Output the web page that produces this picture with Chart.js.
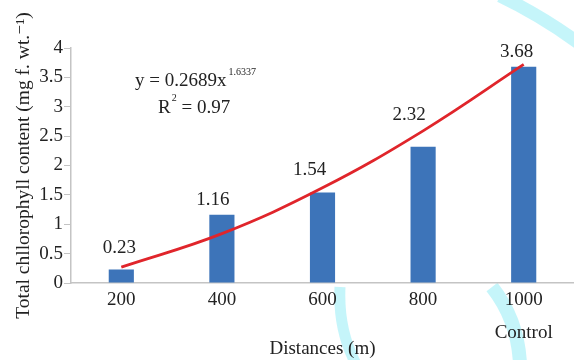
<!DOCTYPE html>
<html lang="en">
<head>
    <meta charset="UTF-8">
    <title>Total chlorophyll content by distance</title>
    <script src="https://cdn.jsdelivr.net/npm/chart.js"></script>
    <style>
        html, body { margin: 0; padding: 0; background: #fff; }
        #chartContainer { width: 574px; height: 360px; }
    </style>
</head>
<body>
    <div id="chartContainer">
        <canvas id="myChart" width="574" height="360"></canvas>
    </div>
    <script>
        const distances = ['200', '400', '600', '800', ['1000', 'Control']];
        const chlorophyll = [0.23, 1.16, 1.54, 2.32, 3.68];
        // trend curve at each category
        const trendValues = [0.27, 0.84, 1.62, 2.59, 3.72];
        const yTicks = [0, 0.5, 1, 1.5, 2, 2.5, 3, 3.5, 4];

        const serif = '"Liberation Serif", "DejaVu Serif", serif';
        const ink = '#222';

        // faint cyan watermark behind the chart
        const watermark = {
            id: 'watermark',
            beforeDraw(chart) {
                const c = chart.ctx;
                c.save();
                c.strokeStyle = 'rgba(150, 236, 246, 0.55)';
                c.lineCap = 'butt';
                c.lineWidth = 13;
                c.beginPath();
                c.moveTo(500, -4);
                c.quadraticCurveTo(540, 15, 580, 44);
                c.stroke();
                c.lineWidth = 11;
                c.beginPath();
                c.moveTo(340, 287);
                c.quadraticCurveTo(338, 330, 356, 364);
                c.stroke();
                c.lineWidth = 14;
                c.beginPath();
                c.moveTo(492, 287);
                c.quadraticCurveTo(518, 320, 520, 364);
                c.stroke();
                c.restore();
            }
        };

        // value labels above the bars and the fitted equation
        const annotations = {
            id: 'annotations',
            afterDatasetsDraw(chart, args, opts) {
                const c = chart.ctx;
                const meta = chart.getDatasetMeta(1);
                c.save();
                c.fillStyle = ink;
                c.textAlign = 'center';
                c.textBaseline = 'middle';
                c.font = '19px ' + serif;
                meta.data.forEach((bar, i) => {
                    c.fillText(chlorophyll[i].toFixed(2), bar.x + opts.dx[i], bar.y - opts.dy[i]);
                });

                c.textAlign = 'left';
                c.font = '19px ' + serif;
                const eq = 'y = 0.2689x';
                c.fillText(eq, 135, 81);
                const w = c.measureText(eq).width;
                c.font = '10px ' + serif;
                c.fillText('1.6337', 135 + w + 2, 72);

                c.font = '19px ' + serif;
                c.fillText('R', 158, 108);
                const rw = c.measureText('R').width;
                c.font = '10px ' + serif;
                c.fillText('2', 158 + rw + 1, 98);
                c.font = '19px ' + serif;
                c.fillText(' = 0.97', 158 + rw + 6, 108);
                c.restore();
            }
        };

        const ctx = document.getElementById('myChart').getContext('2d');
        new Chart(ctx, {
            data: {
                labels: distances,
                datasets: [{
                    type: 'line',
                    label: 'Power trend',
                    data: trendValues,
                    borderColor: '#e0252b',
                    borderWidth: 2.8,
                    pointRadius: 0,
                    tension: 0.4,
                    fill: false,
                    order: 0
                }, {
                    type: 'bar',
                    label: 'Total chlorophyll',
                    data: chlorophyll,
                    backgroundColor: '#3d74b9',
                    categoryPercentage: 1,
                    barPercentage: 0.25,
                    order: 1
                }]
            },
            options: {
                responsive: false,
                animation: false,
                layout: { padding: { top: 48, right: 0, left: 0, bottom: 0 } },
                scales: {
                    x: {
                        grid: { display: false, drawTicks: false },
                        border: { display: true, color: '#c4c4c4', width: 1.5 },
                        ticks: {
                            color: ink,
                            padding: 0,
                            maxRotation: 0,
                            autoSkip: false,
                            font: { family: serif, size: 19, lineHeight: 1.74 }
                        },
                        title: {
                            display: true,
                            text: 'Distances (m)',
                            color: ink,
                            padding: { top: 0, bottom: 0 },
                            font: { family: serif, size: 19, lineHeight: 1.2 }
                        },
                        afterFit(scale) { scale.height = 77; }
                    },
                    y: {
                        min: 0,
                        max: 4,
                        afterBuildTicks(scale) {
                            scale.ticks = yTicks.map(v => ({ value: v }));
                        },
                        grid: {
                            drawOnChartArea: false,
                            drawTicks: true,
                            tickLength: 7,
                            color: '#c4c4c4'
                        },
                        border: { display: true, color: '#c4c4c4', width: 1.5 },
                        ticks: {
                            color: ink,
                            padding: 1,
                            font: { family: serif, size: 19 },
                            callback: v => String(v)
                        },
                        title: {
                            display: true,
                            text: 'Total chllorophyll content (mg f. wt.\u207B\u00B9)',
                            color: ink,
                            padding: { top: 12, bottom: 0 },
                            font: { family: serif, size: 19.5, lineHeight: 1.2 }
                        },
                        afterFit(scale) { scale.width = 71; }
                    }
                },
                plugins: {
                    legend: { display: false },
                    tooltip: { enabled: false },
                    annotations: {
                        dx: [-2, -9, -13, -14, -7],
                        dy: [21, 15, 23, 32, 15]
                    }
                }
            },
            plugins: [watermark, annotations]
        });
    </script>
</body>
</html>
